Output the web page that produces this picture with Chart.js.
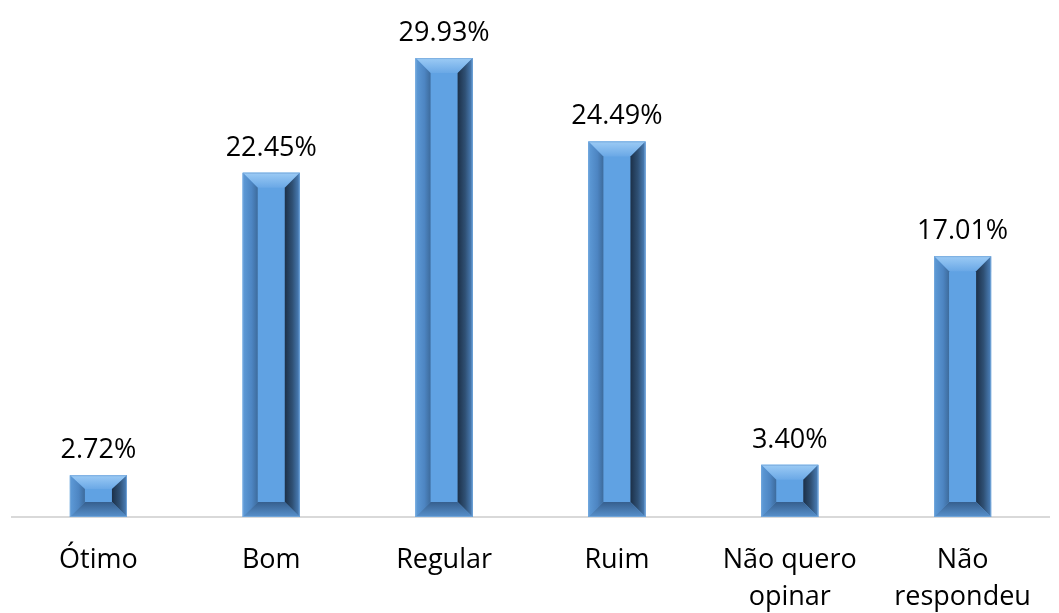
<!DOCTYPE html>
<html>
<head>
<meta charset="utf-8">
<script src="https://cdn.jsdelivr.net/npm/chart.js@4"></script>
<style>
  html, body { margin: 0; padding: 0; background: #fff; }
  #wrap { width: 1059px; height: 613px; }
</style>
</head>
<body>
<div id="wrap"><canvas id="grafico"></canvas></div>
<script>
// Dados
const categorias = ['Ótimo', 'Bom', 'Regular', 'Ruim', ['Não quero', 'opinar'], ['Não', 'respondeu']];
const percentuais = [2.72, 22.45, 29.93, 24.49, 3.40, 17.01];
const rotulos = ['2.72%', '22.45%', '29.93%', '24.49%', '3.40%', '17.01%'];

const FONTE = '"Open Sans", sans-serif';

// Efeito de chanfro (bevel) nas barras
const bevelPlugin = {
    id: 'bevel',
    afterDatasetsDraw(chart) {
        const ctx = chart.ctx;
        chart.getDatasetMeta(0).data.forEach(function(bar) {
            const l = bar.x - bar.width / 2, r = bar.x + bar.width / 2;
            const t = bar.y, b = bar.base;
            const h = b - t;
            const ix = 15;
            const it = Math.min(15, h * 0.33), ib = Math.min(15, h * 0.38);
            const il = l + ix, ir = r - ix, itp = t + it, ibt = b - ib;

            ctx.save();
            // centro
            ctx.fillStyle = '#60a2e3';
            ctx.fillRect(l, t, r - l, b - t);

            // topo
            let g = ctx.createLinearGradient(0, t, 0, itp);
            g.addColorStop(0, '#9ccbf5');
            g.addColorStop(1, '#6aa8e6');
            ctx.fillStyle = g;
            ctx.beginPath();
            ctx.moveTo(l, t); ctx.lineTo(r, t); ctx.lineTo(ir, itp); ctx.lineTo(il, itp);
            ctx.closePath(); ctx.fill();

            // esquerda
            g = ctx.createLinearGradient(l, 0, il, 0);
            g.addColorStop(0, '#5e9bd8');
            g.addColorStop(0.6, '#4d85c2');
            g.addColorStop(1, '#3d6b9c');
            ctx.fillStyle = g;
            ctx.beginPath();
            ctx.moveTo(l, t); ctx.lineTo(il, itp); ctx.lineTo(il, ibt); ctx.lineTo(l, b);
            ctx.closePath(); ctx.fill();

            // direita
            g = ctx.createLinearGradient(ir, 0, r, 0);
            g.addColorStop(0, '#1c3048');
            g.addColorStop(0.5, '#2f5074');
            g.addColorStop(1, '#4c82bd');
            ctx.fillStyle = g;
            ctx.beginPath();
            ctx.moveTo(r, t); ctx.lineTo(r, b); ctx.lineTo(ir, ibt); ctx.lineTo(ir, itp);
            ctx.closePath(); ctx.fill();

            // base
            g = ctx.createLinearGradient(0, ibt, 0, b);
            g.addColorStop(0, '#365f8e');
            g.addColorStop(1, '#5891cc');
            ctx.fillStyle = g;
            ctx.beginPath();
            ctx.moveTo(l, b); ctx.lineTo(il, ibt); ctx.lineTo(ir, ibt); ctx.lineTo(r, b);
            ctx.closePath(); ctx.fill();

            ctx.strokeStyle = 'rgba(120,170,220,0.8)';
            ctx.lineWidth = 1;
            ctx.strokeRect(l + 0.5, t + 0.5, r - l - 1, b - t - 1);
            ctx.restore();
        });
    }
};

// Rótulos de valor acima das barras
const rotuloPlugin = {
    id: 'rotulos',
    afterDatasetsDraw(chart) {
        const ctx = chart.ctx;
        ctx.save();
        ctx.font = '27px ' + FONTE;
        ctx.fillStyle = '#000';
        ctx.textAlign = 'center';
        ctx.textBaseline = 'alphabetic';
        chart.getDatasetMeta(0).data.forEach(function(bar, i) {
            ctx.fillText(rotulos[i], bar.x, bar.y - 17);
        });
        ctx.restore();
    }
};

new Chart(document.getElementById('grafico').getContext('2d'), {
    type: 'bar',
    data: {
        labels: categorias,
        datasets: [{
            data: percentuais,
            backgroundColor: '#60a2e3',
            barPercentage: 0.33,
            categoryPercentage: 1
        }]
    },
    options: {
        responsive: true,
        maintainAspectRatio: false,
        animation: false,
        layout: { padding: { top: 11, left: 12, right: 10, bottom: 0 } },
        plugins: {
            legend: { display: false },
            tooltip: { enabled: false }
        },
        scales: {
            x: {
                grid: { display: false },
                border: { display: true, color: '#d9d9d9', width: 2 },
                ticks: {
                    color: '#000',
                    font: { family: FONTE, size: 27, lineHeight: 37 / 27 },
                    padding: 17,
                    maxRotation: 0,
                    autoSkip: false
                },
                afterFit: function(scale) { scale.height = 96; }
            },
            y: {
                display: false,
                min: 0,
                max: 33
            }
        }
    },
    plugins: [bevelPlugin, rotuloPlugin]
});
</script>
</body>
</html>
